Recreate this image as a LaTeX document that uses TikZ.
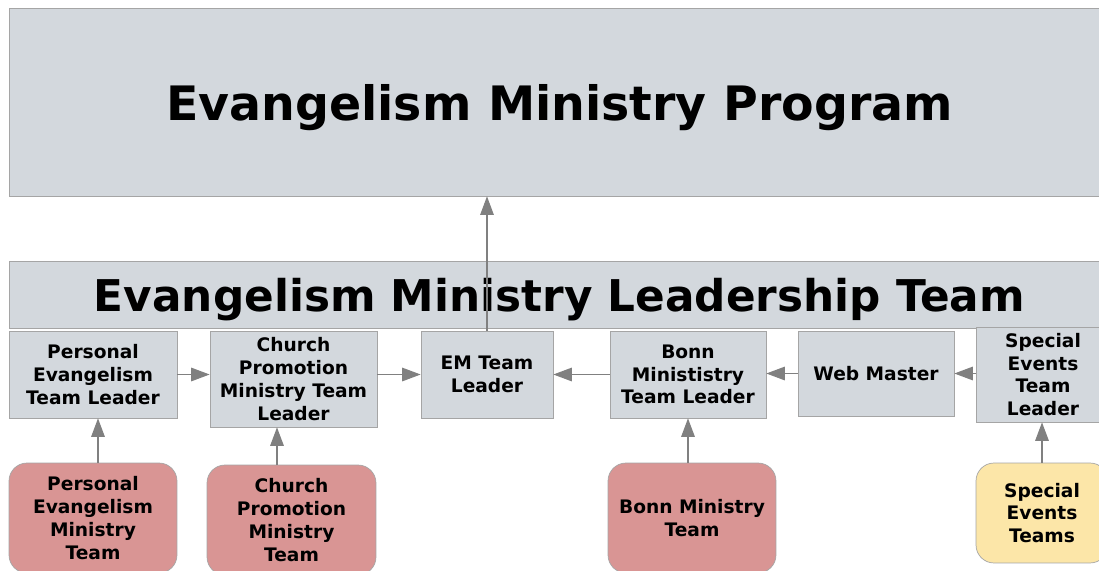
\documentclass[tikz,border=0pt]{standalone}
\usepackage{fontspec}
\setmainfont{DejaVu Sans}
\usepackage{xcolor}
\usetikzlibrary{arrows.meta,positioning}

\definecolor{boxgray}{HTML}{D3D8DD}
\definecolor{edgegray}{HTML}{A5A5A5}
\definecolor{teamred}{HTML}{D99594}
\definecolor{teamyellow}{HTML}{FCE6A8}
\definecolor{arrowgray}{HTML}{808080}

\begin{document}
\begin{tikzpicture}[
		x=0.02cm, y=-0.02cm,
		>={Triangle[length=0.37cm,width=0.27cm]},
		every node/.style = {font=\bfseries\fontsize{10.6}{13}\selectfont, align=center, inner sep=2pt},
		banner/.style = {draw=edgegray, fill=boxgray, minimum width=22.02cm, text depth=0pt},
		leader/.style = {draw=edgegray, fill=boxgray},
		team/.style = {draw=edgegray, fill=teamred, rounded corners=0.36cm},
		link/.style = {->, color=arrowgray, line width=0.8pt}
		]
		\clip (0,0) rectangle (1099,571);
		
		% Banners -------------------------------------------------------
		\node[banner, minimum height=3.76cm, font=\bfseries\fontsize{27}{32}\selectfont] (program) at (559.5,102) {Evangelism Ministry Program};
		\node[banner, minimum height=1.34cm, font=\bfseries\fontsize{24.9}{30}\selectfont] (leadteam) at (559.5,294.5) {Evangelism Ministry Leadership Team};
		
		% Leaders -------------------------------------------------------
		\node[leader, minimum width=3.36cm, minimum height=1.74cm] (pelead) at (93,374.5) {Personal\\Evangelism\\Team Leader};
		\node[leader, minimum width=3.34cm, minimum height=1.92cm] (cplead) at (293.5,379) {Church\\Promotion\\Ministry Team\\Leader};
		\node[leader, minimum width=2.64cm, minimum height=1.74cm] (emlead) at (487,374.5) {EM Team\\Leader};
		\node[leader, minimum width=3.12cm, minimum height=1.74cm] (bonnlead) at (688,374.5) {Bonn\\Minististry\\Team Leader};
		\node[leader, minimum width=3.12cm, minimum height=1.70cm] (webmaster) at (876,373.5) {Web Master};
		\node[leader, minimum width=2.68cm, minimum height=1.90cm] (splead) at (1043,374.5) {Special\\Events\\Team\\Leader};
		
		% Teams ---------------------------------------------------------
		\node[team, minimum width=3.36cm, minimum height=2.2cm] (peteam) at (93,518) {Personal\\Evangelism\\Ministry\\Team};
		\node[team, minimum width=3.38cm, minimum height=2.2cm] (cpteam) at (291.5,520) {Church\\Promotion\\Ministry\\Team};
		\node[team, minimum width=3.36cm, minimum height=2.2cm] (bonnteam) at (692,518) {Bonn Ministry\\Team};
		\node[team, fill=teamyellow, minimum width=2.64cm, minimum height=2.0cm] (spteam) at (1042,513) {Special\\Events\\Teams};
		
		% Arrows --------------------------------------------------------
		\draw[link] (pelead.east) -- (pelead.east -| cplead.west);
		\draw[link] (cplead.east |- emlead) -- (emlead.west);
		\draw[link] (bonnlead) -- (emlead);
		\draw[link] (webmaster.west) -- (webmaster.west -| bonnlead.east);
		\draw[link] (splead.west |- webmaster) -- (webmaster.east);
		\draw[link] ([xshift=0.1cm]peteam.north) -- ([xshift=0.1cm]pelead.south);
		\draw[link] ([xshift=-0.29cm]cpteam.north) -- ([xshift=-0.29cm]cpteam.north |- cplead.south);
		\draw[link] (bonnteam.north -| bonnlead) -- (bonnlead.south);
		\draw[link] (spteam.north) -- (spteam.north |- splead.south);
		\draw[link, line width=0.6pt] (emlead.north) -- (emlead.north |- program.south);  % up to the program
	\end{tikzpicture}
\end{document}
